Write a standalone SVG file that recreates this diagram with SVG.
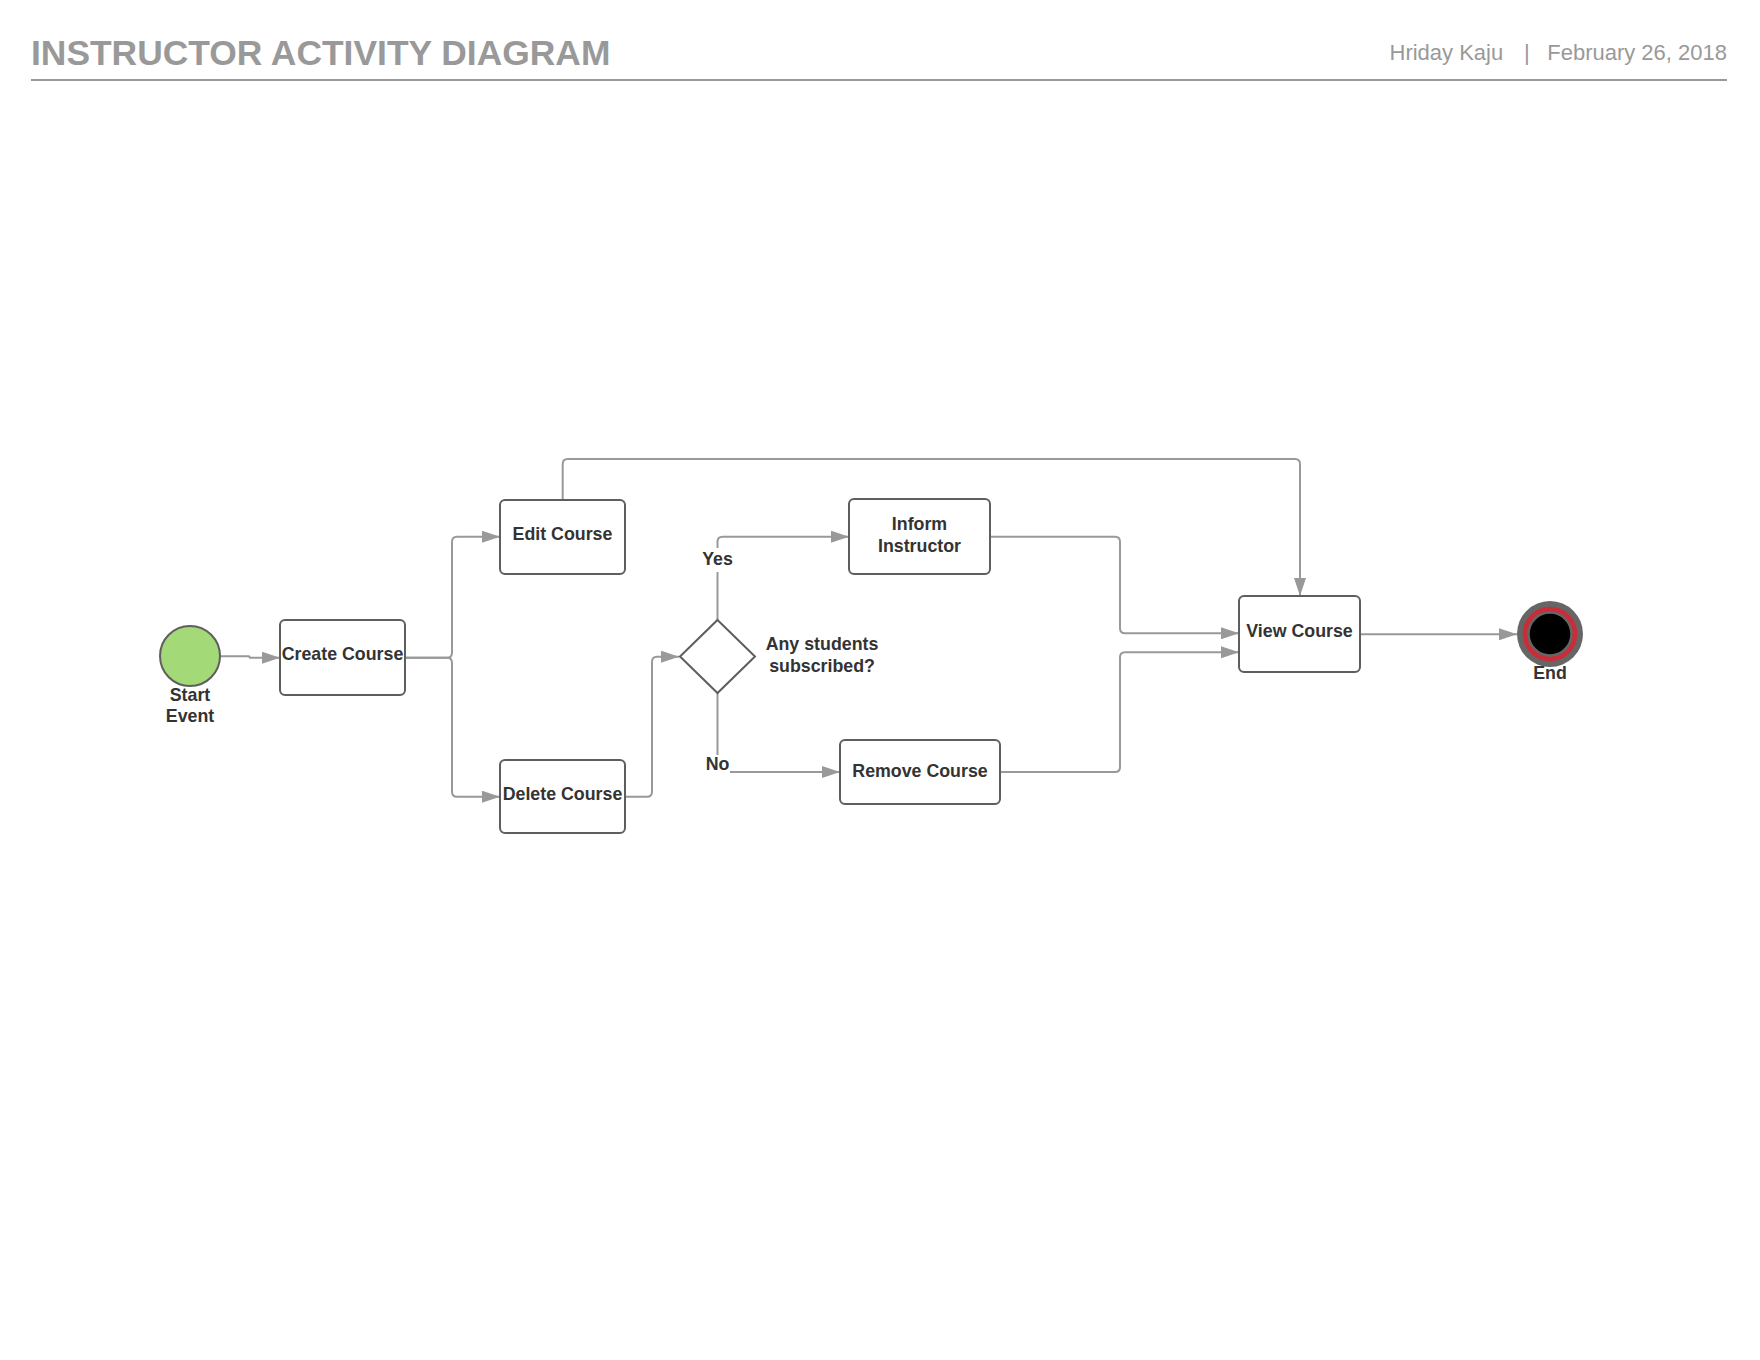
<svg xmlns="http://www.w3.org/2000/svg" width="1760" height="1360" viewBox="0 0 1760 1360">
<style>
.title{font-family:"Liberation Sans",Arial,sans-serif;font-weight:bold;font-size:35.4px;fill:#999999}
.meta{font-family:"Liberation Sans",Arial,sans-serif;font-size:22px;fill:#999999}
.lbl{font-family:"Liberation Sans",Arial,sans-serif;font-weight:bold;font-size:17.8px;fill:#333333;text-anchor:middle}
.box{fill:#ffffff;stroke:#5e5e5e;stroke-width:2}
.con{fill:none;stroke:#999999;stroke-width:2}
</style>
<defs>
<marker id="arr" markerUnits="userSpaceOnUse" markerWidth="18" markerHeight="12" refX="18" refY="6" orient="auto">
<path d="M0,0 L18,6 L0,12 z" fill="#999999"/>
</marker>
</defs>
<rect width="1760" height="1360" fill="#ffffff"/>
<g id="header">
<text class="title" x="31" y="65">INSTRUCTOR ACTIVITY DIAGRAM</text>
<text class="meta" x="1389.5" y="60">Hriday Kaju</text>
<text class="meta" x="1524" y="60">|</text>
<text class="meta" x="1727" y="60" text-anchor="end">February 26, 2018</text>
<line x1="31" y1="80" x2="1727" y2="80" stroke="#999999" stroke-width="2"/>
</g>
<g id="connectors">
<path class="con" marker-end="url(#arr)" d="M220,656.3 L249,656.3 L250,657.7 L280,657.7"/>
<path class="con" marker-end="url(#arr)" d="M405,657.7 H447 Q452,657.7 452,652.7 V541.7 Q452,536.7 457,536.7 H500"/>
<path class="con" marker-end="url(#arr)" d="M405,657.7 H447 Q452,657.7 452,662.7 V791.7 Q452,796.7 457,796.7 H500"/>
<path class="con" marker-end="url(#arr)" d="M562.7,500 V464 Q562.7,459 567.7,459 H1295 Q1300,459 1300,464 V596"/>
<path class="con" marker-end="url(#arr)" d="M625,796.7 H647 Q652,796.7 652,791.7 V661.7 Q652,656.7 657,656.7 H679"/>
<path class="con" d="M717.5,620 V572"/>
<path class="con" marker-end="url(#arr)" d="M717.5,548 V541.7 Q717.5,536.7 722.5,536.7 H849"/>
<path class="con" d="M717.5,693 V755"/>
<path class="con" marker-end="url(#arr)" d="M730,772 H840"/>
<path class="con" marker-end="url(#arr)" d="M990,536.7 H1115 Q1120,536.7 1120,541.7 V628.3 Q1120,633.3 1125,633.3 H1239"/>
<path class="con" marker-end="url(#arr)" d="M1000,772 H1115 Q1120,772 1120,767 V657.3 Q1120,652.3 1125,652.3 H1239"/>
<path class="con" marker-end="url(#arr)" d="M1360,634.3 H1517"/>
<text class="lbl" x="717.5" y="565.4">Yes</text>
<text class="lbl" x="717.5" y="770.4">No</text>
</g>
<g id="start">
<circle cx="190" cy="656" r="30" fill="#a3d977" stroke="#5e5e5e" stroke-width="2"/>
<text class="lbl" x="190" y="701.4">Start</text>
<text class="lbl" x="190" y="722.4">Event</text>
</g>
<g id="create-course">
<rect class="box" x="280" y="620" width="125" height="75" rx="5"/>
<text class="lbl" x="342.5" y="660.4">Create Course</text>
</g>
<g id="edit-course">
<rect class="box" x="500" y="500" width="125" height="74" rx="5"/>
<text class="lbl" x="562.5" y="539.7">Edit Course</text>
</g>
<g id="delete-course">
<rect class="box" x="500" y="760" width="125" height="73" rx="5"/>
<text class="lbl" x="562.5" y="800.4">Delete Course</text>
</g>
<g id="decision">
<polygon points="717.5,620 755,656.5 717.5,693 680,656.5" fill="#ffffff" stroke="#5e5e5e" stroke-width="2"/>
<text class="lbl" x="822" y="650.4">Any students</text>
<text class="lbl" x="822" y="672">subscribed?</text>
</g>
<g id="inform-instructor">
<rect class="box" x="849" y="499" width="141" height="75" rx="5"/>
<text class="lbl" x="919.5" y="530.4">Inform</text>
<text class="lbl" x="919.5" y="551.7">Instructor</text>
</g>
<g id="remove-course">
<rect class="box" x="840" y="740" width="160" height="64" rx="5"/>
<text class="lbl" x="920" y="777.4">Remove Course</text>
</g>
<g id="view-course">
<rect class="box" x="1239" y="596" width="121" height="76" rx="5"/>
<text class="lbl" x="1299.5" y="637.4">View Course</text>
</g>
<g id="end">
<circle cx="1550" cy="634" r="33" fill="#666666"/>
<circle cx="1550" cy="634" r="25" fill="none" stroke="#c92d39" stroke-width="4.6"/>
<circle cx="1550" cy="634" r="21" fill="#000000" stroke="#666666" stroke-width="1.5"/>
<text class="lbl" x="1550" y="678.7">End</text>
</g>
</svg>
